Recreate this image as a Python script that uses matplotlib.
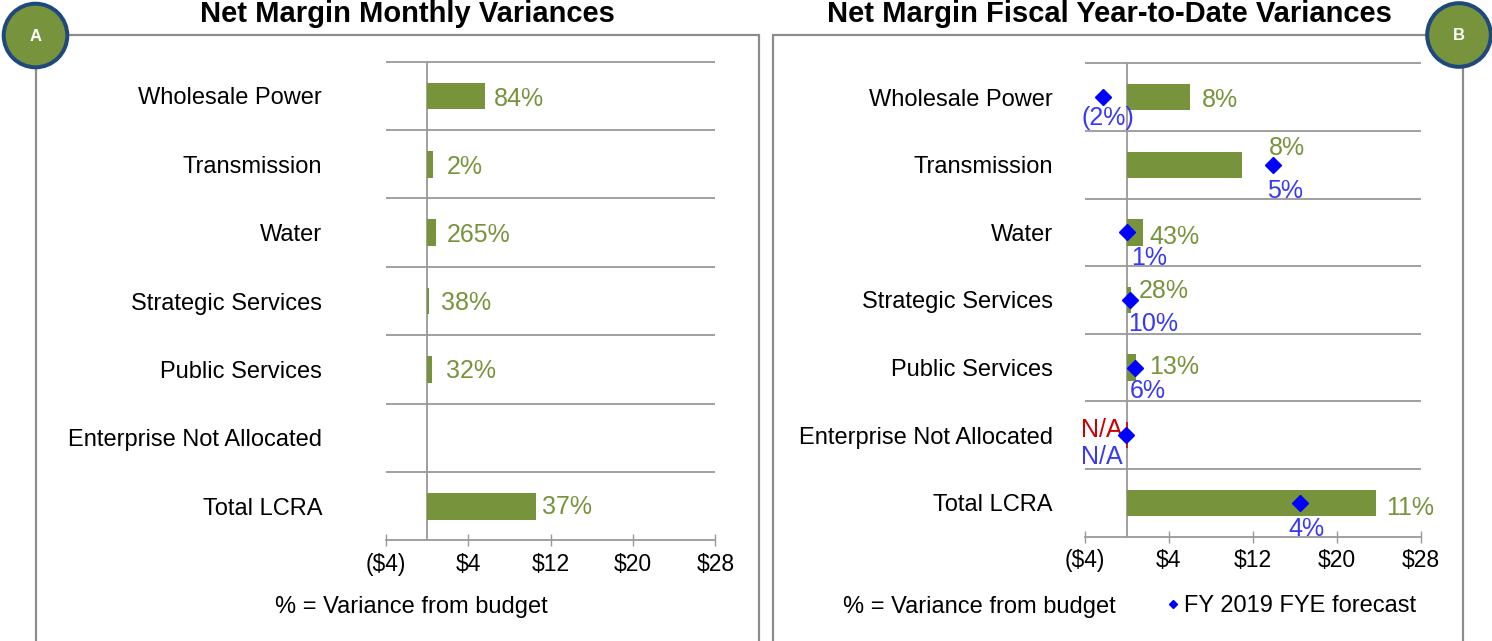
import matplotlib
matplotlib.use('Agg')
import matplotlib.pyplot as plt
from matplotlib.patches import Rectangle, Ellipse
from matplotlib.lines import Line2D

plt.rcParams['font.family'] = ['Liberation Sans', 'DejaVu Sans']

# ---- data ($M variance) ----
categories = ['Wholesale Power', 'Transmission', 'Water', 'Strategic Services',
              'Public Services', 'Enterprise Not Allocated', 'Total LCRA']

monthly = [5.6, 0.6, 0.85, 0.2, 0.45, 0.0, 10.6]
monthly_pct = ['84%', '2%', '265%', '38%', '32%', '', '37%']

ytd = [6.05, 11.0, 1.5, 0.4, 0.9, 0.0, 23.7]
ytd_pct = ['8%', '8%', '43%', '28%', '13%', 'N/A', '11%']
forecast = [-2.3, 13.9, 0.05, 0.35, 0.8, -0.1, 16.5]
forecast_pct = ['(2%)', '5%', '1%', '10%', '6%', 'N/A', '4%']

xticks = [-4, 4, 12, 20, 28]
xticklabels = ['($4)', '$4', '$12', '$20', '$28']

# ---- style ----
W, H = 1492, 641
PT = 0.72  # points per pixel at dpi 100
GREEN = '#77933C'
BLUE = '#0000FF'
BLUE_TXT = '#3838F5'
RED = '#CC0000'
GRID = '#999999'
FRAME = '#8C8C8C'
RING = '#1F497D'

# label offsets in pixels (dx, dy with dy downward)
left_off = [(9, 3), (13, 3), (11, 2), (12, 2), (14, 2), (0, 0), (6, 1)]
right_off = [(12, 3), (27, -17), (7, 5), (8, -9), (13, -1), (-46, -5), (10, 5)]
fc_off = [(5, 21), (12, 26), (22, 26), (23, 24), (13, 23), (-24, 22), (6, 26)]


def fig_box(x0, y0, x1, y1):
    return [x0 / W, 1 - y1 / H, (x1 - x0) / W, (y1 - y0) / H]


def draw_panel(ax, values, label_pad):
    n = len(categories)
    ypos = list(range(n))
    ax.barh(ypos, values, height=0.39, color=GREEN, zorder=2)
    ax.set_xlim(xticks[0], xticks[-1])
    ax.set_ylim(n - 0.5, -0.5)
    ax.hlines([i - 0.5 for i in ypos], xticks[0], xticks[-1], color=GRID,
              lw=1.3, clip_on=False, zorder=1)
    ax.axvline(0, color=GRID, lw=1.3, zorder=1)
    for s in ['top', 'right', 'left']:
        ax.spines[s].set_visible(False)
    ax.spines['bottom'].set_color(GRID)
    ax.spines['bottom'].set_linewidth(1.3)
    ax.set_xticks(xticks, xticklabels)
    ax.tick_params(axis='x', direction='inout', length=8, width=1, color=GRID,
                   labelsize=16.5, pad=5)
    ax.set_yticks(ypos, categories)
    ax.tick_params(axis='y', length=0, labelsize=17, pad=label_pad)
    ax.set_facecolor('none')


fig = plt.figure(figsize=(W / 100, H / 100), dpi=100)

# panel frames
for x0, x1 in [(36, 758.7), (773.3, 1462.7)]:
    fig.add_artist(Rectangle((x0 / W, 1 - 700 / H), (x1 - x0) / W, (700 - 35) / H,
                             transform=fig.transFigure, fill=False, ec=FRAME,
                             lw=2.2 * PT, clip_on=False))

ax1 = fig.add_axes(fig_box(386, 61.7, 715.3, 540.4))
ax2 = fig.add_axes(fig_box(1084.7, 63.3, 1421, 536.7))

draw_panel(ax1, monthly, 46)
draw_panel(ax2, ytd, 23)

for i, (v, lab) in enumerate(zip(monthly, monthly_pct)):
    dx, dy = left_off[i]
    ax1.annotate(lab, (v, i), xytext=(dx * PT, -dy * PT), textcoords='offset points',
                 ha='left', va='center', color=GREEN, fontsize=18)

for i, (v, lab) in enumerate(zip(ytd, ytd_pct)):
    dx, dy = right_off[i]
    col = RED if lab == 'N/A' else GREEN
    if lab == 'N/A':
        ax2.barh(i, v, height=0.39, color='none', ec=RED, lw=1.2, zorder=2)
    ax2.annotate(lab, (v, i), xytext=(dx * PT, -dy * PT), textcoords='offset points',
                 ha='left', va='center', color=col, fontsize=18)

ax2.plot(forecast, range(len(categories)), ls='none', marker='D', ms=8.2,
         color=BLUE, zorder=4)
for i, (v, lab) in enumerate(zip(forecast, forecast_pct)):
    dx, dy = fc_off[i]
    ax2.annotate(lab, (v, i), xytext=(dx * PT, -dy * PT), textcoords='offset points',
                 ha='center', va='center', color=BLUE_TXT, fontsize=18)

# titles
fig.text(407 / W, 1 - 22 / H, 'Net Margin Monthly Variances', ha='center',
         va='baseline', fontsize=21, weight='bold')
fig.text(1109 / W, 1 - 22 / H, 'Net Margin Fiscal Year-to-Date Variances',
         ha='center', va='baseline', fontsize=21, weight='bold')

# footnotes
fig.text(411.5 / W, 1 - 613 / H, '% = Variance from budget', ha='center',
         va='baseline', fontsize=17)
fig.text(979 / W, 1 - 613 / H, '% = Variance from budget', ha='center',
         va='baseline', fontsize=17)
fig.legend(handles=[Line2D([], [], marker='D', ls='none', color=BLUE, ms=4.5)],
           labels=['FY 2019 FYE forecast'], loc='center left',
           bbox_to_anchor=(1166 / W, 1 - 606 / H), frameon=False, fontsize=17,
           handlelength=0.6, handletextpad=0.15, borderpad=0, borderaxespad=0)

# corner badges
for cx, cy, letter in [(35.5, 35.5, 'A'), (1459, 35, 'B')]:
    fig.add_artist(Ellipse((cx / W, 1 - cy / H), 2 * 31.8 / W, 2 * 31.8 / H,
                           transform=fig.transFigure, fc=GREEN, ec=RING,
                           lw=4 * PT, zorder=5))
    fig.text(cx / W, 1 - (cy + 1) / H, letter, ha='center', va='center',
             color='white', fontsize=12, weight='bold', zorder=6)

fig.savefig('out.png', dpi=100)
